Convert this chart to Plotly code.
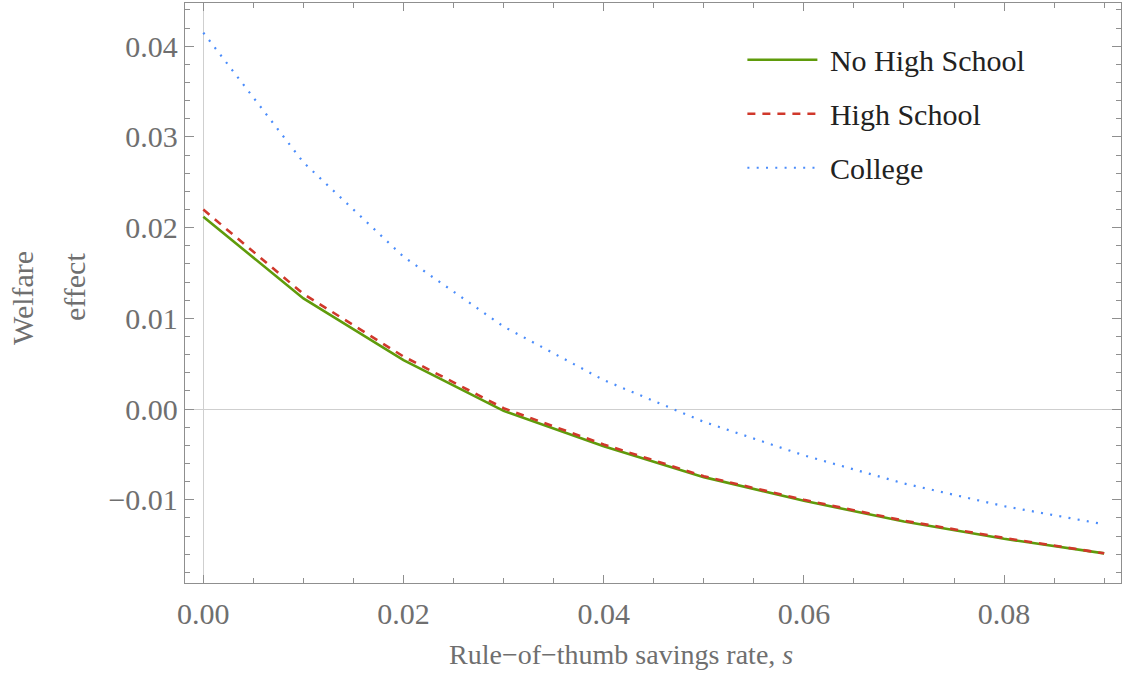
import plotly.graph_objects as go

# Data
s = [0.00, 0.01, 0.02, 0.03, 0.04, 0.05, 0.06, 0.07, 0.08, 0.09]
no_high_school = [0.0212, 0.0122, 0.0054, -0.0002, -0.0041, -0.0075, -0.0101, -0.0124, -0.0143, -0.0159]
high_school = [0.0220, 0.0127, 0.0058, 0.0001, -0.0039, -0.0074, -0.0100, -0.0123, -0.0142, -0.0159]
college = [0.0415, 0.0272, 0.0168, 0.0091, 0.0032, -0.0014, -0.0051, -0.0082, -0.0107, -0.0127]

x_tickvals = [0.00, 0.02, 0.04, 0.06, 0.08]
x_ticktext = ["0.00", "0.02", "0.04", "0.06", "0.08"]
y_tickvals = [-0.01, 0.00, 0.01, 0.02, 0.03, 0.04]
y_ticktext = ["\u22120.01", "0.00", "0.01", "0.02", "0.03", "0.04"]

FONT = "Liberation Serif"
GREY_TXT = "#6f6f6f"
FRAME = "#8f8f8f"

fig = go.Figure()
fig.add_trace(go.Scatter(x=s, y=no_high_school, mode="lines", name="\u00a0No High School",
                         legendgroup="a",
                         line=dict(color="#5f9b0b", width=2.6)))
fig.add_trace(go.Scatter(x=s, y=high_school, mode="lines", name="\u00a0High School",
                         legendgroup="b",
                         line=dict(color="#d0382b", width=2.6, dash="8px,7px")))
fig.add_trace(go.Scatter(x=s, y=college, mode="lines", name="\u00a0College",
                         legendgroup="c",
                         line=dict(color="#4a8cfb", width=2.2, dash="2px,7.3px")))

axis_common = dict(
    showline=True, linecolor=FRAME, linewidth=1.4, mirror="allticks",
    ticks="inside", tickcolor=FRAME, tickwidth=1,
    showgrid=False,
    tickfont=dict(family=FONT, size=30, color=GREY_TXT),
    zeroline=True, zerolinecolor="#cfcfcf", zerolinewidth=1,
)

fig.update_xaxes(
    range=[-0.00183, 0.09168], tickvals=x_tickvals, ticktext=x_ticktext,
    ticklen=8, ticklabelstandoff=4,
    minor=dict(ticks="inside", dtick=0.005, tick0=0, ticklen=5, tickcolor=FRAME, tickwidth=1),
    **axis_common,
)
fig.update_yaxes(
    range=[-0.01917, 0.04477], tickvals=y_tickvals, ticktext=y_ticktext,
    ticklen=9, ticklabelstandoff=0,
    minor=dict(ticks="inside", dtick=0.002, tick0=0, ticklen=5, tickcolor=FRAME, tickwidth=1),
    **axis_common,
)

fig.update_layout(
    width=1123, height=673,
    margin=dict(l=185, r=2, t=3, b=90),
    plot_bgcolor="white", paper_bgcolor="white",
    showlegend=True,
    legend=dict(
        x=0.5955, y=0.947, xanchor="left", yanchor="top",
        bgcolor="rgba(255,255,255,0)",
        font=dict(family=FONT, size=30, color="#222222"),
        itemwidth=70, tracegroupgap=12,
    ),
    annotations=[
        dict(text="Rule\u2212of\u2212thumb savings rate, <i>s</i>", xref="paper", yref="paper",
             x=(621 - 185) / 936, y=-(654 - 583) / 580, xanchor="center", yanchor="middle",
             showarrow=False, font=dict(family=FONT, size=28, color=GREY_TXT)),
        dict(text="Welfare", xref="paper", yref="paper",
             x=-(185 - 22) / 936, y=(583 - 298) / 580, xanchor="center", yanchor="middle",
             textangle=-90, showarrow=False, font=dict(family=FONT, size=30, color=GREY_TXT)),
        dict(text="effect", xref="paper", yref="paper",
             x=-(185 - 74) / 936, y=(583 - 287) / 580, xanchor="center", yanchor="middle",
             textangle=-90, showarrow=False, font=dict(family=FONT, size=30, color=GREY_TXT)),
    ],
)

fig.write_html("out.html")
